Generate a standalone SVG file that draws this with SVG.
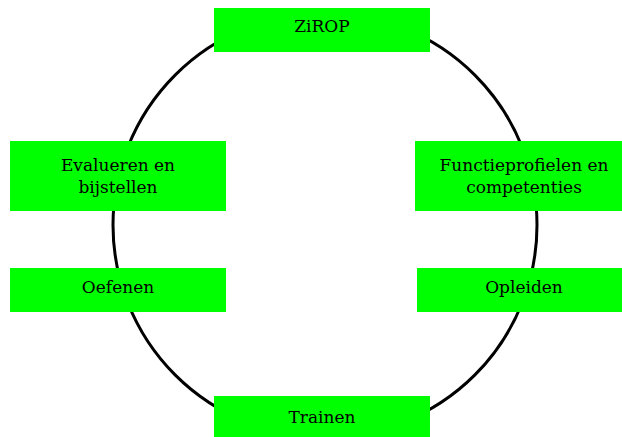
<svg xmlns="http://www.w3.org/2000/svg" width="622" height="437" viewBox="0 0 622 437">
<style>
.box{fill:#00ff00;}
.t{font-family:"DejaVu Serif",serif;font-size:17px;fill:#000;text-anchor:middle;}
.c{fill:none;stroke:#000;stroke-width:3;}
</style>
<rect width="622" height="437" fill="#fff"/>
<g id="connectors">
<circle class="c" cx="325" cy="225" r="212"/>
</g>
<g id="zirop"><rect class="box" x="214" y="8" width="216" height="44"/><text class="t" x="322" y="32">ZiROP</text></g>
<g id="evalueren"><rect class="box" x="10" y="141" width="216" height="70"/><text class="t" x="118" y="171">Evalueren en</text><text class="t" x="118" y="193">bijstellen</text></g>
<g id="functieprofielen"><rect class="box" x="415" y="141" width="216" height="70"/><text class="t" x="524" y="171">Functieprofielen en</text><text class="t" x="524" y="193">competenties</text></g>
<g id="oefenen"><rect class="box" x="10" y="268" width="216" height="44"/><text class="t" x="118" y="293">Oefenen</text></g>
<g id="opleiden"><rect class="box" x="417" y="268" width="216" height="44"/><text class="t" x="524" y="293">Opleiden</text></g>
<g id="trainen"><rect class="box" x="214" y="396" width="216" height="44"/><text class="t" x="322" y="423">Trainen</text></g>
</svg>
